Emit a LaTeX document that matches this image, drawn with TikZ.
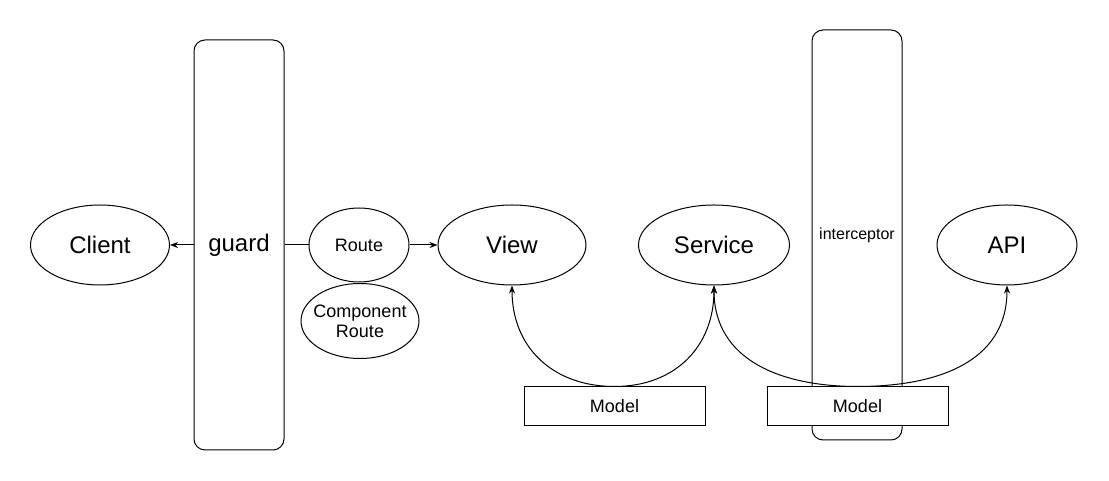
\documentclass[tikz,border=0pt]{standalone}
\usepackage{fontspec}
\setmainfont{Liberation Sans}
\usetikzlibrary{arrows.meta,shapes.geometric}
\tikzset{
  actor/.style={draw, ellipse, inner sep=0pt, minimum width=140pt, minimum height=80pt,
               font=\fontsize{24}{28}\selectfont},
  routenode/.style={actor, align=center, font=\fontsize{18}{20}\selectfont},
  gate/.style={draw, rounded corners=11pt, minimum width=90pt, minimum height=410pt, inner sep=0pt,
               font=\fontsize{24}{28}\selectfont},
  modelbox/.style={draw, fill=white, minimum width=181pt, minimum height=39pt, inner sep=0pt,
               font=\fontsize{18}{20}\selectfont},
  flow/.style={-{Stealth[length=8pt,width=6pt,inset=2.5pt]}},
  link/.style={-},
}
\def\yM{236}
\def\yB{74.5}

\begin{document}
\begin{tikzpicture}[x=1pt, y=1pt, line width=1pt]
  \useasboundingbox (0,0) rectangle (1109,481);
  \node[gate] (guard) at (239,\yM) {guard};
  \node[gate, font=\fontsize{16}{19}\selectfont] (icpt) at (857,246) {interceptor};
  \node[actor, minimum width=139pt] (client) at (100,\yM) {Client};
  \node[routenode, minimum width=100pt, minimum height=74pt] (route) at (359,\yM) {Route};
  \node[routenode, inner xsep=-5pt, minimum width=118pt, minimum height=75pt] (comp) at (360,160) {Component\\Route};
  \node[actor, minimum width=148pt] (view) at (512,\yM) {View};
  \node[actor, minimum width=151pt] (service) at (714,\yM) {Service};
  \node[actor] (api) at (1007,\yM) {API};
  \node[modelbox] (m1) at (614.5,\yB) {Model};
  \node[modelbox] (m2) at (857.5,\yB) {Model};
  \draw[flow] (guard.west) -- (client.east);
  \draw[link] (guard.east) -- (route.west);
  \draw[flow] (route.east) -- (view.west);
  \draw[flow] (m1.north) to[out=180, in=-90, looseness=1.1] (view.south);
  \draw[flow] (m1.north) to[out=0, in=-90, looseness=1.1] (service.south);
  \draw[flow] (m2.north) to[out=180, in=-90, looseness=1.1] (service.south);
  \draw[flow] (m2.north) to[out=0, in=-90, looseness=1.1] (api.south);
\end{tikzpicture}
\end{document}
